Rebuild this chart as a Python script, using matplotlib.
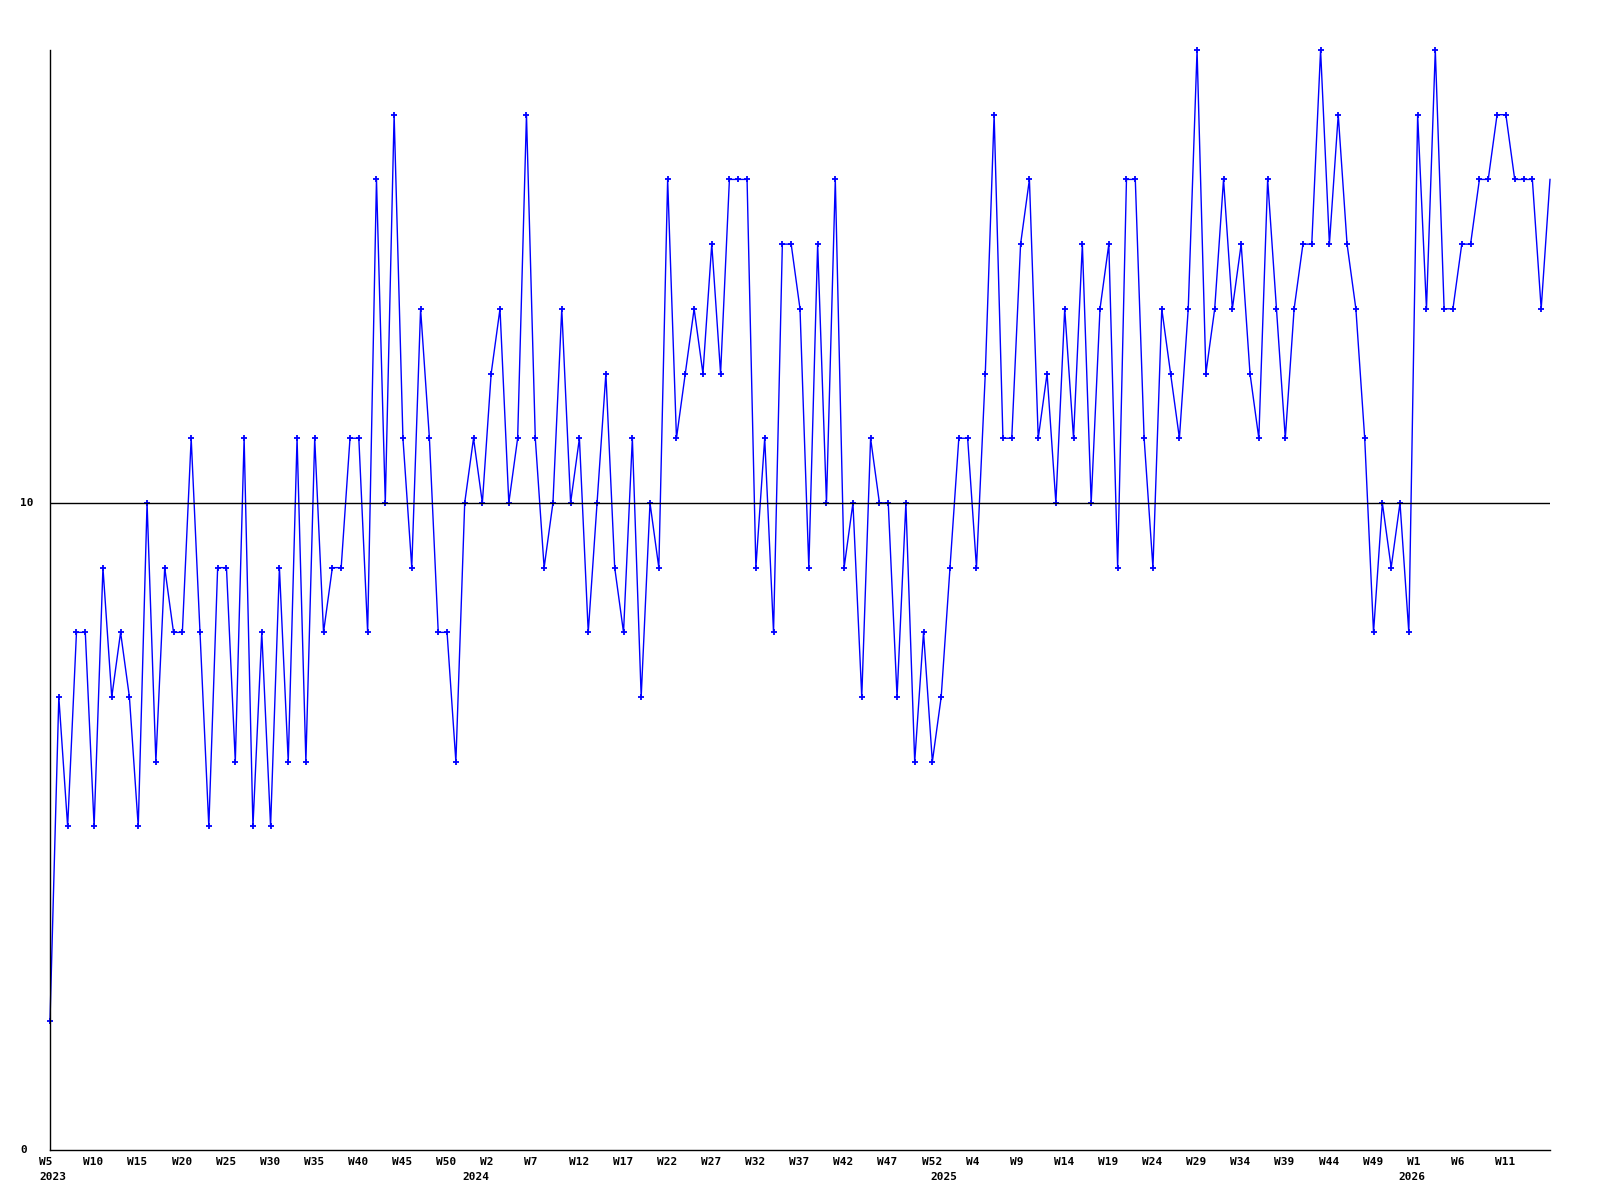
import matplotlib
matplotlib.use("Agg")
import matplotlib.pyplot as plt
import matplotlib.transforms as mtransforms

# weekly buckets: (year, first week, last week)
year_spans = [(2023, 5, 52), (2024, 0, 52), (2025, 0, 52), (2026, 0, 16)]

values = [
    2, 7, 5, 8, 8, 5, 9, 7, 8, 7, 5, 10, 6, 9, 8, 8, 11, 8, 5, 9, 9, 6,
    11, 5, 8, 5, 9, 6, 11, 6, 11, 8, 9, 9, 11, 11, 8, 15, 10, 16, 11, 9, 13, 11,
    8, 8, 6, 10, 11, 10, 12, 13, 10, 11, 16, 11, 9, 10, 13, 10, 11, 8, 10, 12, 9,
    8, 11, 7, 10, 9, 15, 11, 12, 13, 12, 14, 12, 15, 15, 15, 9, 11, 8, 14, 14, 13, 9,
    14, 10, 15, 9, 10, 7, 11, 10, 10, 7, 10, 6, 8, 6, 7, 9, 11, 11, 9, 12, 16,
    11, 11, 14, 15, 11, 12, 10, 13, 11, 14, 10, 13, 14, 9, 15, 15, 11, 9, 13, 12, 11, 13,
    17, 12, 13, 15, 13, 14, 12, 11, 15, 13, 11, 13, 14, 14, 17, 14, 16, 14, 13, 11, 8,
    10, 9, 10, 8, 16, 13, 17, 13, 13, 14, 14, 15, 15, 16, 16, 15, 15, 15, 13, 15,
]

y_ticks = [0, 10]
ref_level = 10
label_step = 5

# build the list of (year, week) periods
periods = []
for yr, w0, w1 in year_spans:
    for w in range(w0, w1 + 1):
        periods.append((yr, w))

x = list(range(len(values)))
n = len(values)

fig = plt.figure(figsize=(16, 12), dpi=100)
ax = fig.add_axes([50 / 1600, 50 / 1200, 1500 / 1600, 1100 / 1200])

# last point sits on the right edge, no marker there
ax.plot(x, values, color="#0000ff", linewidth=1.0, marker="+",
        markersize=4, markeredgewidth=1.3, markevery=slice(0, n - 1),
        zorder=2, clip_on=False)
ax.axhline(ref_level, color="black", linewidth=1.0, zorder=3)

ax.set_xlim(0, n - 1)
ax.set_ylim(0, 17)

for s in ["top", "right"]:
    ax.spines[s].set_visible(False)
for s in ["left", "bottom"]:
    ax.spines[s].set_color("black")
    ax.spines[s].set_linewidth(1.0)

ax.set_xticks([])
ax.set_yticks([])

font = dict(family="DejaVu Sans Mono", weight="bold", size=8, color="black")

# y labels, left aligned near the figure edge
for v in y_ticks:
    ax.text(20 / 1600, ax.transData.transform((0, v))[1] / 1200, str(v),
            transform=fig.transFigure, ha="left", va="center", **font)

# week labels and year labels under the axis
blend = mtransforms.blended_transform_factory(ax.transData, ax.transAxes)
wk_off = blend + mtransforms.ScaledTranslation(-10.8 / 100, -12 / 100, fig.dpi_scale_trans)
yr_off = blend + mtransforms.ScaledTranslation(-10.8 / 100, -27 / 100, fig.dpi_scale_trans)

prev_year = None
for i, (yr, w) in enumerate(periods):
    if i % label_step == 0 and i + label_step < n:
        ax.text(i, 0, f"W{w}", transform=wk_off, ha="left", va="center", **font)
    if yr != prev_year:
        ax.text(i, 0, str(yr), transform=yr_off, ha="left", va="center", **font)
        prev_year = yr

fig.savefig("out.png", dpi=100)
